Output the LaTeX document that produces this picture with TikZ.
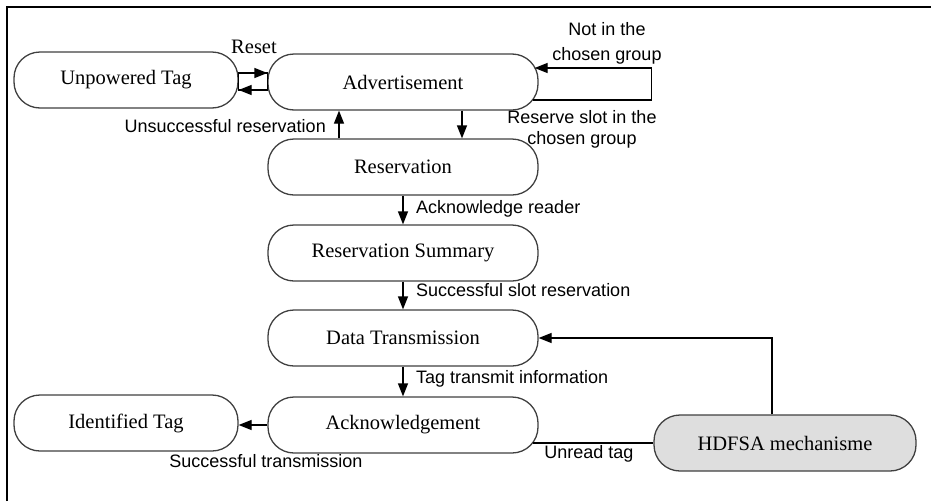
\documentclass[tikz,border=0pt]{standalone}
\usepackage{fontspec}
\setmainfont{Liberation Serif}
\newfontfamily\lblfont{Liberation Sans}
\usetikzlibrary{arrows.meta,positioning}

\begin{document}
\begin{tikzpicture}[x=1pt,y=-1pt,
  state/.style={draw=black!75,line width=1.3pt,rounded corners=26pt,minimum width=270pt,
    minimum height=56pt,inner sep=0pt,fill=white,font=\fontsize{20.5}{24}\selectfont},
  lbl/.style={inner sep=0pt,font=\lblfont\fontsize{18}{22}\selectfont},
  arr/.style={line width=1.3pt,-{Triangle[length=13pt,width=10pt]}},
  wire/.style={line width=1.3pt}]

\useasboundingbox (0,0) rectangle (931,501);

% --- frame -------------------------------------------------------------
\draw[line width=2.5pt] (7,501) -- (7,7) -- (931,7);

% --- states ------------------------------------------------------------
\node[state,minimum width=224pt] (unp) at (126,80) {Unpowered Tag};
\node[state] (adv) at (403,82) {Advertisement};
\node[state] (res) at (403,167) {Reservation};
\node[state] (sum) at (403,253) {Reservation Summary};
\node[state] (dat) at (403,338) {Data Transmission};
\node[state] (ack) at (403,425) {Acknowledgement};
\node[state,minimum width=224pt] (idt) at (126,423) {Identified Tag};
\node[state,minimum width=262pt,fill=black!13] (hdf) at (785,443) {HDFSA mechanisme};

% --- reset -------------------------------------------------------------
\draw[wire] ([yshift=7pt]unp.east) rectangle ([yshift=-10pt]unp.east -| adv.west);
\draw[arr] ([yshift=7pt]unp.east) -- ([yshift=7pt]unp.east -| adv.west);
\draw[arr] ([yshift=-10pt]unp.east -| adv.west) -- ([yshift=-10pt]unp.east);
\node[anchor=base,inner sep=0pt,font=\fontsize{20.5}{24}\selectfont] (lreset) at (254,53) {Reset};

% --- advertisement / reservation ---------------------------------------
\draw[arr] ([xshift=-64pt]res.north) -- ([xshift=-64pt]adv.south);
\node[lbl,anchor=base east] (lunsucc) at (326,132) {Unsuccessful reservation};
\draw[arr] ([xshift=59pt]adv.south) -- ([xshift=59pt]res.north);
\node[lbl,anchor=base,align=center,font=\lblfont\fontsize{18}{21}\selectfont] (lreserve) at (582,144)
  {Reserve slot in the\\chosen group};
\draw[arr] ([xshift=-6pt,yshift=-18pt]adv.east) -- ++(119,0) -- ++(0,-32)
  -- ([xshift=-4pt,yshift=14pt]adv.east);
\node[lbl,anchor=base,align=center,font=\lblfont\fontsize{18}{25}\selectfont] (lnotin) at (607,60)
  {Not in the\\chosen group};

% --- main sequence -----------------------------------------------------
\draw[arr] (res) -- (sum);
\node[lbl,anchor=base west] (lackr) at (416,213) {Acknowledge reader};
\draw[arr] (sum) -- (dat);
\node[lbl,anchor=base west] (lslot) at (416,296) {Successful slot reservation};
\draw[arr] (dat) -- (ack);
\node[lbl,anchor=base west] (ltag) at (416,383) {Tag transmit information};
\draw[arr] (ack.west) -- (ack.west -| idt.east);
\node[lbl,anchor=base] (lsucc) at (266,467) {Successful transmission};

% --- HDFSA loop --------------------------------------------------------
\draw[wire] ([xshift=-6pt,yshift=-18pt]ack.east) -- (hdf.west);
\node[lbl,anchor=base] (lunread) at (589,458) {Unread tag};
\draw[arr] ([xshift=-13pt]hdf.north) |- (dat.east);
\end{tikzpicture}
\end{document}
